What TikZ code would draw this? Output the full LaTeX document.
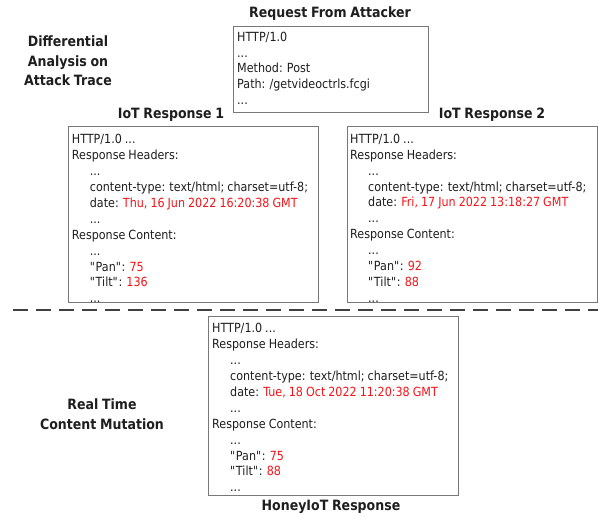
\documentclass[tikz,border=0pt]{standalone}
\usepackage{fontspec}
\setmainfont{DejaVu Sans}[FakeStretch=0.885, WordSpace=0.85]
\definecolor{hot}{RGB}{245,20,25}
\definecolor{ink}{RGB}{30,30,30}
\definecolor{frame}{RGB}{120,120,120}
\newcommand\indsp{\hspace*{18pt}}
\newcommand\dq{\XeTeXglyph\XeTeXcharglyph"22\relax}
\newcommand\respbody[3]{HTTP/1.0 ...\\Response Headers:\\\indsp...\\\indsp content-type: text/html; charset=utf-8;\\\indsp date: \textcolor{hot}{#1}\\\indsp...\\Response Content:\\\indsp...\\\indsp\dq Pan\dq: \textcolor{hot}{#2}\\\indsp\dq Tilt\dq: \textcolor{hot}{#3}\\\indsp...}
\tikzset{
  panel/.style={draw=frame, line width=1.1pt, inner sep=0pt, anchor=north west},
  body/.style={inner sep=0pt, anchor=north west, align=left, text=ink, font=\fontsize{12.6}{15.9}\selectfont},
  reqbody/.style={body, font=\fontsize{12.6}{15.7}\selectfont},
  heading/.style={inner sep=0pt, text=ink, align=center, font=\bfseries\fontsize{14.2}{19.5}\selectfont},
  divider/.style={line width=2.2pt, draw=ink!85, dash pattern=on 15pt off 8pt}
}
\begin{document}
\begin{tikzpicture}[x=1pt, y=-1pt]
\useasboundingbox (0,0) rectangle (598,518);
% request
\node[heading] (reqtitle) at (330,14) {Request From Attacker};
\node[panel, minimum width=195pt, minimum height=86pt] (req) at (233,26) {};
\node[reqbody] (reqtxt) at (237,32) {HTTP/1.0\\...\\Method: Post\\Path: /getvideoctrls.fcgi\\...};
\node[heading] (diff) at (68,61) {Differential\\Analysis on\\Attack Trace};
% responses
\node[heading] (r1title) at (171,115) {IoT Response 1};
\node[heading] (r2title) at (492,115) {IoT Response 2};
\node[panel, minimum width=250pt, minimum height=176pt] (r1) at (68,126) {};
\node[panel, minimum width=250pt, minimum height=176pt] (r2) at (347,126) {};
\node[body] (r1txt) at (71.7,134.3) {\respbody{Thu, 16 Jun 2022 16:20:38 GMT}{75}{136}};
\node[body] (r2txt) at (350,133.8) {\respbody{Fri, 17 Jun 2022 13:18:27 GMT}{92}{88}};
% divider
\coordinate (dl) at (13,310);
\coordinate (dr) at (598,310);
\draw[divider] (dl) -- (dr);
% honeypot
\node[heading] (mut) at (102,414) {Real Time\\Content Mutation};
\node[panel, minimum width=250pt, minimum height=179pt] (hp) at (208,316) {};
\node[body] (hptxt) at (212,323.3) {\respbody{Tue, 18 Oct 2022 11:20:38 GMT}{75}{88}};
\node[heading] (hptitle) at (331,507) {HoneyIoT Response};
\end{tikzpicture}
\end{document}
